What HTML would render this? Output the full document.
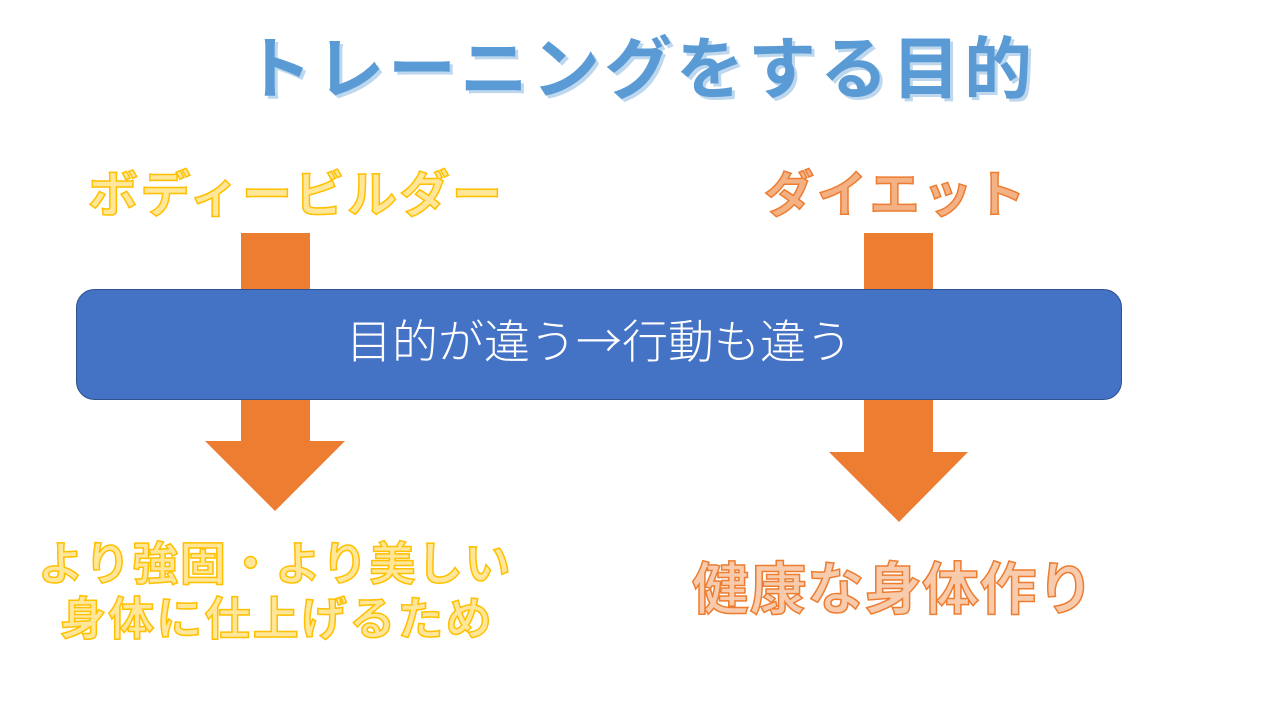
<!DOCTYPE html>
<html><head><meta charset="utf-8"><style>
body{margin:0;width:1280px;height:720px;background:#fff;position:relative;overflow:hidden;font-family:"Liberation Sans","Noto Sans CJK JP",sans-serif}
.t{position:absolute;white-space:nowrap;font-weight:bold;line-height:1}
</style></head><body>
<div class="t" style="left:244px;top:36px;font-size:68px;letter-spacing:4px;color:#5B9BD5;text-shadow:3px 3px 0 #BDD7EE">トレーニングをする目的</div>
<div class="t" style="left:88px;top:170px;font-size:50px;letter-spacing:2.5px;color:#FFE699;-webkit-text-stroke:1.5px #FFC000">ボディービルダー</div>
<div class="t" style="left:764px;top:170px;font-size:50px;letter-spacing:3px;color:#F4B183;-webkit-text-stroke:1.5px #ED7D31">ダイエット</div>
<svg style="position:absolute;left:0;top:0" width="1280" height="720">
<polygon points="241,233 310,233 310,441 345,441 275,511 205,441 241,441" fill="#ED7D31"/>
<polygon points="864,233 933,233 933,452 968,452 899,522 829,452 864,452" fill="#ED7D31"/>
<rect x="76.5" y="289.5" width="1045" height="110" rx="18" fill="#4472C4" stroke="#2F528F"/>
<text x="599" y="358" font-size="46" fill="#fff" text-anchor="middle" font-family="Noto Sans CJK JP, sans-serif" font-weight="300">目的が違う→行動も違う</text>
</svg>
<div class="t" style="left:38px;top:541px;font-size:46px;letter-spacing:1.6px;color:#FFE699;-webkit-text-stroke:1.5px #FFC000">より強固・より美しい</div>
<div class="t" style="left:60px;top:596px;font-size:46px;letter-spacing:2.2px;color:#FFE699;-webkit-text-stroke:1.5px #FFC000">身体に仕上げるため</div>
<div class="t" style="left:692px;top:562px;font-size:57px;letter-spacing:0.5px;color:#F8CBAD;-webkit-text-stroke:1.5px #ED7D31">健康な身体作り</div>
</body></html>
